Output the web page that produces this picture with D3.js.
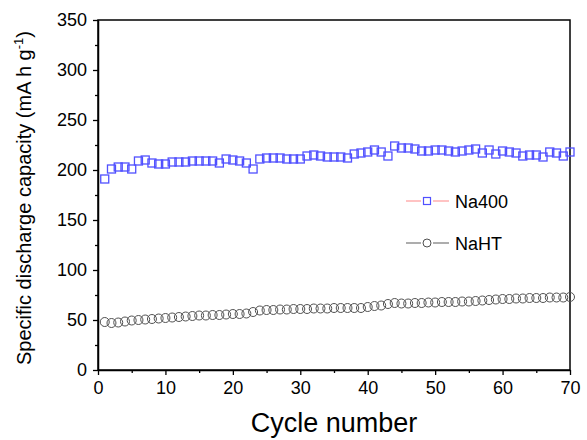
<!DOCTYPE html>
<html>
<head>
<meta charset="utf-8">
<script src="https://cdn.jsdelivr.net/npm/d3@7"></script>
<style>
  body { margin: 0; background: #fff; }
  svg { font-family: "Liberation Sans", Arial, sans-serif; }
</style>
</head>
<body>
<div id="chart"></div>
<script>
const cycles = d3.range(1, 71);
const na400 = [191, 201, 203, 203, 201, 209, 210, 207, 206, 206,
               208, 208, 208, 209, 209, 209, 209, 207, 211, 210,
               209, 207, 201, 211, 212, 212, 212, 211, 211, 211,
               214, 215, 214, 213, 213, 213, 212, 216, 217, 218,
               220, 218, 214, 224, 222, 222, 221, 219, 219, 220,
               220, 219, 218, 219, 220, 221, 217, 220, 216, 219,
               218, 217, 214, 215, 215, 213, 218, 217, 214, 218];
const naht = [48, 47, 47.5, 48.5, 49.5, 50, 50.5, 51, 51.5, 52,
              52.5, 53, 53.5, 54, 54.5, 54.5, 55, 55, 55.5, 56,
              56, 56.5, 58, 59.5, 60, 60, 60.5, 60.5, 61, 61,
              61, 61.5, 61.5, 61.5, 62, 62, 62, 62, 62, 63,
              64, 64.5, 66, 67, 66.5, 66.5, 67, 67, 67.5, 67.5,
              68, 68, 68, 68.5, 68.5, 69, 69.5, 70, 70.5, 71,
              71, 71.5, 71.5, 72, 72, 72, 72.5, 72.5, 72.5, 73];
const xTicks = [0, 10, 20, 30, 40, 50, 60, 70];
const yTicks = [0, 50, 100, 150, 200, 250, 300, 350];
const seriesNames = ["Na400", "NaHT"];

const width = 587, height = 440;
const margin = { left: 98, right: 17, top: 20, bottom: 70 };

const svg = d3.select("#chart").append("svg")
    .attr("width", width)
    .attr("height", height);

const x = d3.scaleLinear().domain([0, 70]).range([margin.left, width - margin.right]);
const y = d3.scaleLinear().domain([0, 350]).range([height - margin.bottom, margin.top]);

// minor ticks
svg.append("g")
    .attr("transform", "translate(0," + y(0) + ")")
    .call(d3.axisBottom(x).tickValues(d3.range(5, 70, 10)).tickSize(3).tickFormat(""))
    .call(g => g.select(".domain").remove());
svg.append("g")
    .attr("transform", "translate(" + x(0) + ",0)")
    .call(d3.axisLeft(y).tickValues(d3.range(25, 350, 50)).tickSize(3).tickFormat(""))
    .call(g => g.select(".domain").remove());

const xAxis = svg.append("g")
    .attr("transform", "translate(0," + y(0) + ")")
    .call(d3.axisBottom(x).tickValues(xTicks).tickSize(5).tickPadding(6).tickSizeOuter(0));
const yAxis = svg.append("g")
    .attr("transform", "translate(" + x(0) + ",0)")
    .call(d3.axisLeft(y).tickValues(yTicks).tickSize(5).tickPadding(6).tickSizeOuter(0));

[xAxis, yAxis].forEach(g => {
    g.selectAll("text").attr("font-size", 18).attr("fill", "#000")
        .attr("font-family", "Liberation Sans, Arial, sans-serif");
    g.select(".domain").attr("stroke", "#000").attr("stroke-width", 1.5);
});
svg.selectAll("g line").attr("stroke", "#000").attr("stroke-width", 1.3);

// frame
svg.append("rect")
    .attr("x", x(0)).attr("y", y(350))
    .attr("width", x(70) - x(0)).attr("height", y(0) - y(350))
    .attr("fill", "none").attr("stroke", "#000").attr("stroke-width", 1.5);

// NaHT circles
svg.append("g").selectAll("circle")
    .data(naht)
    .join("circle")
    .attr("cx", (d, i) => x(cycles[i]))
    .attr("cy", d => y(d))
    .attr("r", 4.5)
    .attr("fill", "none")
    .attr("stroke", "#505050")
    .attr("stroke-width", 1);

// Na400 squares
const s = 8;
svg.append("g").selectAll("rect")
    .data(na400)
    .join("rect")
    .attr("x", (d, i) => x(cycles[i]) - s / 2)
    .attr("y", d => y(d) - s / 2)
    .attr("width", s).attr("height", s)
    .attr("fill", "none")
    .attr("stroke", "#5050ff")
    .attr("stroke-width", 1.3);

// legend
const legend = svg.append("g");
const ly = [201, 243];
const lineColors = ["#ff9b9b", "#777"];
seriesNames.forEach((name, i) => {
    const g = legend.append("g").attr("transform", "translate(0," + ly[i] + ")");
    g.append("line").attr("x1", 406).attr("x2", 421).attr("y1", 0).attr("y2", 0)
        .attr("stroke", lineColors[i]).attr("stroke-width", 1.2);
    g.append("line").attr("x1", 433).attr("x2", 449).attr("y1", 0).attr("y2", 0)
        .attr("stroke", lineColors[i]).attr("stroke-width", 1.2);
    if (i === 0) {
        g.append("rect").attr("x", 427 - 3.5).attr("y", -3.5).attr("width", 7).attr("height", 7)
            .attr("fill", "none").attr("stroke", "#5050ff").attr("stroke-width", 1.2);
    } else {
        g.append("circle").attr("cx", 427).attr("cy", 0).attr("r", 4)
            .attr("fill", "none").attr("stroke", "#505050").attr("stroke-width", 1);
    }
    g.append("text").attr("x", 455).attr("y", 6.5)
        .attr("font-size", 18).attr("fill", "#000").text(name);
});

// axis titles
svg.append("text")
    .attr("x", (x(0) + x(70)) / 2).attr("y", 432)
    .attr("text-anchor", "middle")
    .attr("font-size", 27)
    .text("Cycle number");

const yt = svg.append("text")
    .attr("transform", "translate(31," + 198 + ") rotate(-90)")
    .attr("text-anchor", "middle")
    .attr("font-size", 20);
yt.append("tspan").text("Specific discharge capacity (mA h g");
yt.append("tspan").attr("dy", -8).attr("font-size", 13).text("-1");
yt.append("tspan").attr("dy", 8).text(")");
</script>
</body>
</html>
